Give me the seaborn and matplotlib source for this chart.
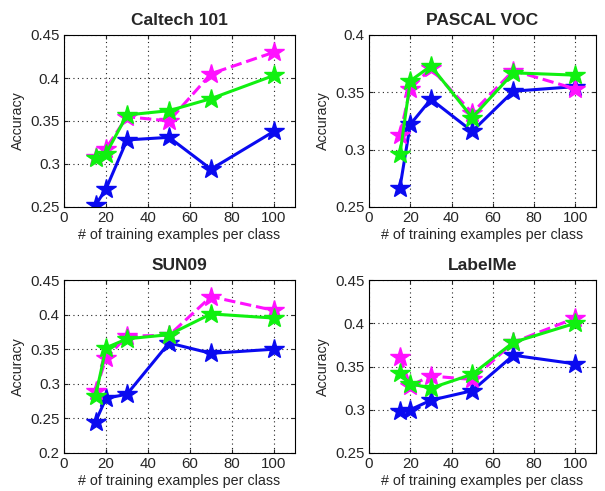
import numpy as np
import pandas as pd
import matplotlib
matplotlib.use("Agg")
import matplotlib.pyplot as plt
import seaborn as sns

n_train = [15, 20, 30, 50, 70, 100]

titles = ["Caltech 101", "PASCAL VOC", "SUN09", "LabelMe"]

blue_vals = [
    [0.252, 0.271, 0.328, 0.331, 0.294, 0.338],
    [0.267, 0.322, 0.344, 0.316, 0.351, 0.355],
    [0.245, 0.279, 0.285, 0.359, 0.344, 0.350],
    [0.298, 0.300, 0.311, 0.322, 0.363, 0.353],
]
magenta_vals = [
    [0.308, 0.318, 0.355, 0.350, 0.405, 0.430],
    [0.313, 0.353, 0.371, 0.332, 0.369, 0.353],
    [0.289, 0.337, 0.369, 0.370, 0.426, 0.406],
    [0.361, 0.328, 0.339, 0.335, 0.378, 0.406],
]
green_vals = [
    [0.307, 0.312, 0.357, 0.362, 0.376, 0.403],
    [0.296, 0.360, 0.373, 0.328, 0.367, 0.365],
    [0.282, 0.352, 0.365, 0.371, 0.401, 0.395],
    [0.342, 0.330, 0.325, 0.341, 0.378, 0.400],
]

y_limits = [(0.25, 0.45), (0.25, 0.4), (0.2, 0.45), (0.25, 0.45)]

sns.set_style("white")
plt.rcParams['font.family'] = ['Liberation Sans', 'DejaVu Sans']

fig = plt.figure(figsize=(6.05, 4.91), dpi=100)
W, H = 605, 491
# axes boxes in pixels: left, top, right, bottom
boxes = [(64, 35, 295, 207), (369, 35, 596, 207),
         (64, 280, 295, 453), (369, 280, 596, 453)]

series = [("blue", "#0a0af0", "-"), ("magenta", "#ff10ff", "--"), ("green", "#10f010", "-")]

for i in range(4):
    l, t, r, b = boxes[i]
    ax = fig.add_axes([l / W, 1 - b / H, (r - l) / W, (b - t) / H])
    df = pd.DataFrame({"n": n_train, "blue": blue_vals[i],
                       "magenta": magenta_vals[i], "green": green_vals[i]})
    for name, col, ls in series:
        sns.lineplot(data=df, x="n", y=name, ax=ax, color=col, lw=2.2,
                     linestyle=ls, marker="*", markersize=15,
                     markeredgecolor=col, markeredgewidth=1)
    ax.set_xlim(0, 110)
    ax.set_ylim(*y_limits[i])
    ax.set_xticks([0, 20, 40, 60, 80, 100])
    ax.set_yticks(np.arange(y_limits[i][0], y_limits[i][1] + 0.001, 0.05))
    ax.set_yticklabels([f"{v:g}" for v in np.round(ax.get_yticks(), 2)])
    ax.grid(True, linestyle=(0, (1, 3)), color="#222222", lw=0.8)
    ax.tick_params(labelsize=10.8, direction="in", length=3, left=True, bottom=True,
                   right=True, top=True, pad=3)
    for s in ax.spines.values():
        s.set_color("black")
        s.set_linewidth(0.8)
    ax.set_title(titles[i], fontsize=12.5, fontweight="bold", pad=7)
    ax.set_xlabel("# of training examples per class", fontsize=10.3, labelpad=2)
    ax.set_ylabel("Accuracy", fontsize=10.3, labelpad=4)

fig.savefig("out.png", dpi=100)
